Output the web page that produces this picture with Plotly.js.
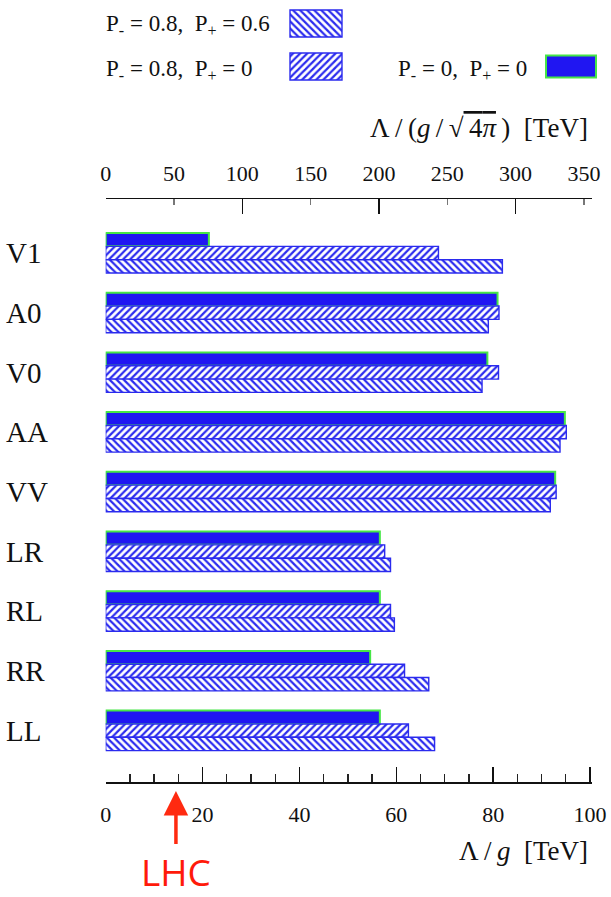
<!DOCTYPE html>
<html>
<head>
<meta charset="utf-8">
<script src="https://cdn.plot.ly/plotly-3.0.1.min.js"></script>
<style>
  html, body { margin: 0; padding: 0; background: #fff; }
  #chart { width: 611px; height: 897px; }
</style>
</head>
<body>
<div id="chart"></div>
<script>
// Contact-interaction reach, Λ/g in TeV, for three beam-polarisation settings
const operators = ['V1', 'A0', 'V0', 'AA', 'VV', 'LR', 'RL', 'RR', 'LL'];
const reachUnpolarised = [21.3, 80.9, 78.8, 94.8, 92.8, 56.6, 56.6, 54.6, 56.6];   // P- = 0,   P+ = 0
const reachElectronPol = [68.7, 81.2, 81.1, 95.1, 93.0, 57.6, 58.8, 61.7, 62.5];   // P- = 0.8, P+ = 0
const reachBothPol     = [81.9, 79.0, 77.7, 93.8, 91.8, 58.8, 59.6, 66.7, 67.9];   // P- = 0.8, P+ = 0.6
const lhcReach = 14.5;

const bottomTicks = [0, 20, 40, 60, 80, 100];
const topTicks = [0, 50, 100, 150, 200, 250, 300, 350];
const topMajorTicks = [0, 100, 200, 300];

// figure is laid out in page pixels; convert to paper fractions
const W = 611, H = 897;
const fx = px => px / W;
const fy = py => 1 - py / H;

const BLUE = '#2016f2';
const GREEN = '#46e646';
const HATCH = '#2b2bee';
const serif = '"Liberation Serif", "DejaVu Serif", serif';
const ink = '#111';
const thin = '\u2009';

const solidStyle = { color: BLUE, line: { color: GREEN, width: 2 } };
const slashStyle = {
  color: '#fff',
  line: { color: HATCH, width: 1.4 },
  pattern: { shape: '/', fgcolor: HATCH, bgcolor: '#fff', size: 5, solidity: 0.45 }
};
const backStyle = {
  color: '#fff',
  line: { color: HATCH, width: 1.4 },
  pattern: { shape: '\\', fgcolor: HATCH, bgcolor: '#fff', size: 5, solidity: 0.45 }
};

const traces = [
  { type: 'bar', orientation: 'h', y: operators, x: reachUnpolarised, marker: solidStyle,
    name: 'P- = 0, P+ = 0', showlegend: false, hoverinfo: 'skip' },
  { type: 'bar', orientation: 'h', y: operators, x: reachElectronPol, marker: slashStyle,
    name: 'P- = 0.8, P+ = 0', showlegend: false, hoverinfo: 'skip' },
  { type: 'bar', orientation: 'h', y: operators, x: reachBothPol, marker: backStyle,
    name: 'P- = 0.8, P+ = 0.6', showlegend: false, hoverinfo: 'skip' },
  // carriers for the Λ/(g/√4π) scale on top
  { type: 'scatter', x: [], y: [], xaxis: 'x2', yaxis: 'y', showlegend: false, hoverinfo: 'skip' },
  { type: 'scatter', x: [], y: [], xaxis: 'x4', yaxis: 'y', showlegend: false, hoverinfo: 'skip' }
];

// legend keys, drawn as bars in a small key panel above the chart (page-pixel units)
const keyPanel = { height: 95 };
const keys = [
  { row: 23.5, start: 290, len: 52, thick: 27, marker: backStyle },
  { row: 66.5, start: 290, len: 52, thick: 27, marker: slashStyle },
  { row: 66.5, start: 546, len: 50, thick: 22, marker: solidStyle }
];
keys.forEach(k => traces.push({
  type: 'bar', orientation: 'h', xaxis: 'x3', yaxis: 'y3',
  y: [k.row], base: [k.start], x: [k.len], width: [k.thick], offset: -k.thick / 2,
  marker: k.marker, showlegend: false, hoverinfo: 'skip'
}));

// Λ/(g/√4π) = √(4π) · Λ/g
const scale = Math.sqrt(4 * Math.PI);
const plotLeft = 105.7, plotRight = 591.5;
const bottomRange = [0, 100.3];
const topRange = [bottomRange[0] * scale, bottomRange[1] * scale];

const tickFont = { family: serif, size: 22, color: ink };
const legendFont = { family: serif, size: 23, color: ink };
const titleFont = { family: serif, size: 27, color: ink };

const layout = {
  width: W, height: H,
  margin: { l: 0, r: 0, t: 0, b: 0, pad: 0 },
  paper_bgcolor: '#fff', plot_bgcolor: 'rgba(0,0,0,0)',
  showlegend: false,
  barmode: 'group', bargap: 0.33, bargroupgap: 0,
  xaxis: {
    domain: [fx(plotLeft), fx(plotRight)], anchor: 'y',
    range: bottomRange, tickvals: bottomTicks,
    showline: true, linecolor: ink, linewidth: 1.5, showgrid: false, zeroline: false,
    ticks: 'inside', ticklen: 15, tickwidth: 1.5, tickcolor: ink,
    minor: { dtick: 5, ticks: 'inside', ticklen: 8, tickwidth: 1.3, tickcolor: '#222', showgrid: false },
    tickfont: tickFont, ticklabelstandoff: 12
  },
  xaxis2: {
    overlaying: 'x', side: 'top', anchor: 'y',
    range: topRange, tickvals: topTicks,
    showline: true, linecolor: ink, linewidth: 1.5, showgrid: false, zeroline: false,
    ticks: 'inside', ticklen: 6, tickwidth: 1.3, tickcolor: '#777',
    tickfont: tickFont, ticklabelstandoff: 8
  },
  xaxis4: {
    overlaying: 'x', side: 'top', anchor: 'y',
    range: topRange, tickvals: topMajorTicks,
    showline: false, showgrid: false, zeroline: false, showticklabels: false,
    ticks: 'inside', ticklen: 15, tickwidth: 1.5, tickcolor: ink
  },
  yaxis: {
    domain: [fy(782), fy(199)],
    type: 'category', categoryorder: 'array', categoryarray: operators,
    range: [8.861, -0.905], autorange: false,
    anchor: 'free', position: fx(2), side: 'left',
    ticklabelposition: 'inside', ticks: '', showline: false, showgrid: false, zeroline: false,
    tickfont: { family: serif, size: 29, color: ink }
  },
  xaxis3: { domain: [0, 1], range: [0, W], anchor: 'y3', visible: false, fixedrange: true },
  yaxis3: { domain: [fy(keyPanel.height), 1], range: [keyPanel.height, 0], anchor: 'x3', visible: false, fixedrange: true },
  annotations: [
    { xref: 'paper', yref: 'paper', x: fx(104), y: fy(25), xanchor: 'left', yanchor: 'middle', showarrow: false,
      text: 'P<sub>-</sub> = 0.8,  P<sub>+</sub> = 0.6', font: legendFont },
    { xref: 'paper', yref: 'paper', x: fx(104), y: fy(70), xanchor: 'left', yanchor: 'middle', showarrow: false,
      text: 'P<sub>-</sub> = 0.8,  P<sub>+</sub> = 0', font: legendFont },
    { xref: 'paper', yref: 'paper', x: fx(396), y: fy(70), xanchor: 'left', yanchor: 'middle', showarrow: false,
      text: 'P<sub>-</sub> = 0,  P<sub>+</sub> = 0', font: legendFont },
    { xref: 'paper', yref: 'paper', x: fx(590), y: fy(128), xanchor: 'right', yanchor: 'middle', showarrow: false,
      text: 'Λ' + thin + '/' + thin + '(<i>g</i>' + thin + '/' + thin + '√<span style="text-decoration:overline">' +
            thin + '4<i>π</i></span>' + thin + ')  [TeV]',
      font: titleFont },
    { xref: 'paper', yref: 'paper', x: fx(590), y: fy(851), xanchor: 'right', yanchor: 'middle', showarrow: false,
      text: 'Λ' + thin + '/' + thin + '<i>g</i>  [TeV]', font: titleFont },
    { xref: 'x', yref: 'paper', x: lhcReach, y: fy(791), ax: 0, ay: 80, axref: 'pixel', ayref: 'pixel',
      text: 'LHC', showarrow: true, arrowhead: 2, arrowsize: 1.4, arrowwidth: 3.5, arrowcolor: '#ff2a10', standoff: 0,
      font: { family: '"Open Sans", "Noto Sans", sans-serif', size: 37, color: '#ff1a0a' } }
  ]
};

Plotly.newPlot('chart', traces, layout, { staticPlot: true, displayModeBar: false });
</script>
</body>
</html>
